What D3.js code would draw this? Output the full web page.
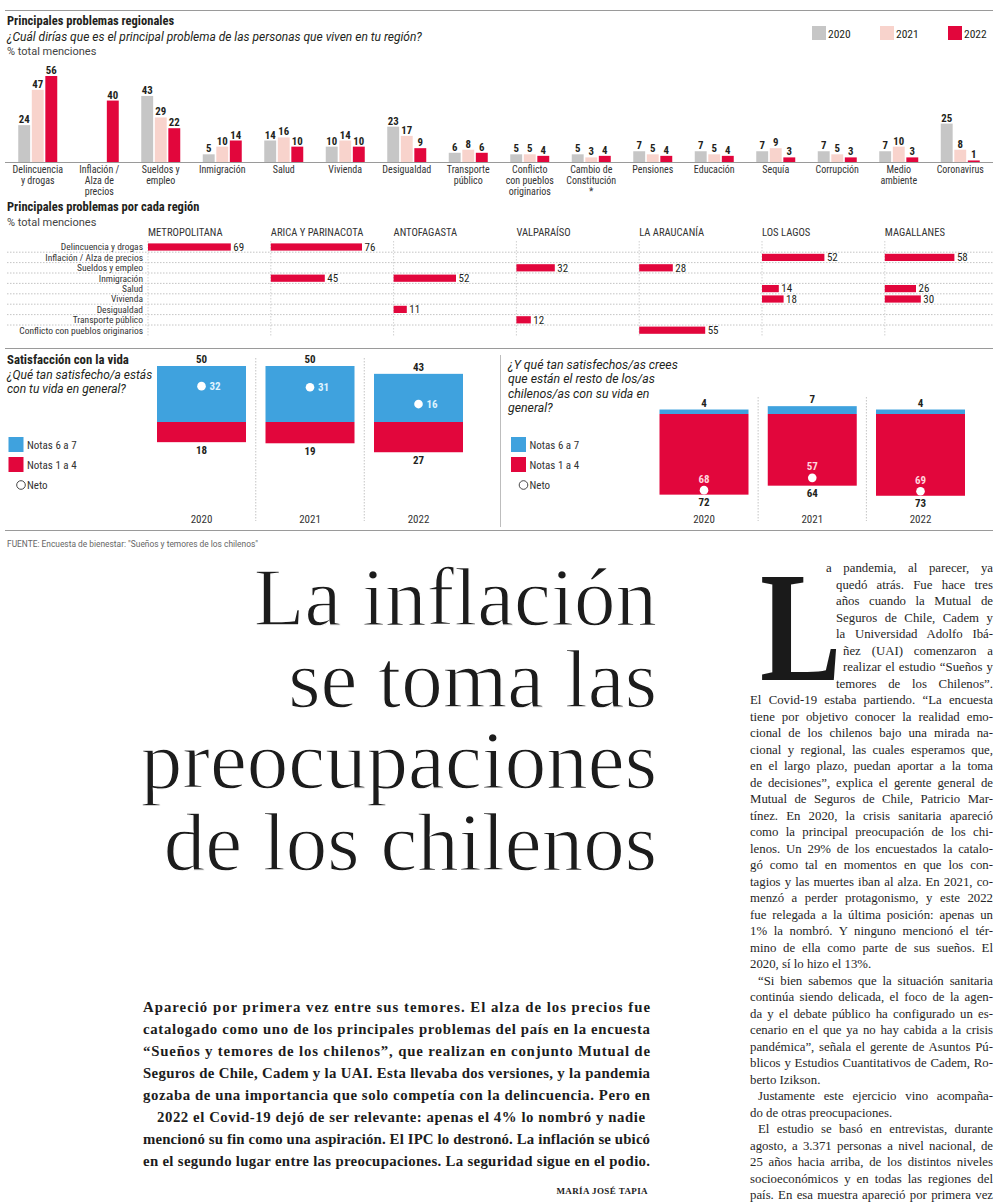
<!DOCTYPE html>
<html>
<head>
<meta charset="utf-8">
<script src="https://cdn.jsdelivr.net/npm/d3@7"></script>
<style>
  body { margin: 0; background: #fff; }
  svg { display: block; }
</style>
</head>
<body>
<svg id="page" width="1000" height="1202"></svg>
<script>
// ---- datos: problemas regionales ----
const categorias = ['Delincuencia\ny drogas', 'Inflación /\nAlza de\nprecios', 'Sueldos y\nempleo', 'Inmigración',
  'Salud', 'Vivienda', 'Desigualdad', 'Transporte\npúblico', 'Conflicto\ncon pueblos\noriginarios',
  'Cambio de\nConstitución\n*', 'Pensiones', 'Educación', 'Sequía', 'Corrupción', 'Medio\nambiente', 'Coronavirus'];
const anios = ['2020', '2021', '2022'];
const valores2020 = [24, null, 43, 5, 14, 10, 23, 6, 5, 5, 7, 7, 7, 7, 7, 25];
const valores2021 = [47, null, 29, 10, 16, 14, 17, 8, 5, 3, 5, 5, 9, 5, 10, 8];
const valores2022 = [56, 40, 22, 14, 10, 10, 9, 6, 4, 4, 4, 4, 3, 3, 3, 1];

// ---- datos: problemas por región ----
const regiones = ['METROPOLITANA', 'ARICA Y PARINACOTA', 'ANTOFAGASTA', 'VALPARAÍSO', 'LA ARAUCANÍA', 'LOS LAGOS', 'MAGALLANES'];
const problemasRegion = ['Delincuencia y drogas', 'Inflación / Alza de precios', 'Sueldos y empleo', 'Inmigración',
  'Salud', 'Vivienda', 'Desigualdad', 'Transporte público', 'Conflicto con pueblos originarios'];
const barrasRegion = [
  ['METROPOLITANA', 'Delincuencia y drogas', 69],
  ['ARICA Y PARINACOTA', 'Delincuencia y drogas', 76],
  ['ARICA Y PARINACOTA', 'Inmigración', 45],
  ['ANTOFAGASTA', 'Inmigración', 52],
  ['ANTOFAGASTA', 'Desigualdad', 11],
  ['VALPARAÍSO', 'Sueldos y empleo', 32],
  ['VALPARAÍSO', 'Transporte público', 12],
  ['LA ARAUCANÍA', 'Sueldos y empleo', 28],
  ['LA ARAUCANÍA', 'Conflicto con pueblos originarios', 55],
  ['LOS LAGOS', 'Inflación / Alza de precios', 52],
  ['LOS LAGOS', 'Salud', 14],
  ['LOS LAGOS', 'Vivienda', 18],
  ['MAGALLANES', 'Inflación / Alza de precios', 58],
  ['MAGALLANES', 'Salud', 26],
  ['MAGALLANES', 'Vivienda', 30]
];

// ---- datos: satisfacción con la vida ----
const propiaAlta = [50, 50, 43];
const propiaBaja = [18, 19, 27];
const propiaNeto = [32, 31, 16];
const otrosAlta = [4, 7, 4];
const otrosBaja = [72, 64, 73];
const otrosNeto = [-68, -57, -69];

// ---- textos ----
const titular = ['La inflación', 'se toma las', 'preocupaciones', 'de los chilenos'];
const bajada = [
  'Apareció por primera vez entre sus temores. El alza de los precios fue',
  'catalogado como uno de los principales problemas del país en la encuesta',
  '“Sueños y temores de los chilenos”, que realizan en conjunto Mutual de',
  'Seguros de Chile, Cadem y la UAI. Esta llevaba dos versiones, y la pandemia',
  'gozaba de una importancia que solo competía con la delincuencia. Pero en',
  '2022 el Covid-19 dejó de ser relevante: apenas el 4% lo nombró y nadie',
  'mencionó su fin como una aspiración. El IPC lo destronó. La inflación se ubicó',
  'en el segundo lugar entre las preocupaciones. La seguridad sigue en el podio.'
];
const articulo = [
  'a pandemia, al parecer, ya',
  'quedó atrás. Fue hace tres',
  'años cuando la Mutual de',
  'Seguros de Chile, Cadem y',
  'la Universidad Adolfo Ibá-',
  'ñez (UAI) comenzaron a',
  'realizar el estudio “Sueños y',
  'temores de los Chilenos”.',
  'El Covid-19 estaba partiendo. “La encuesta',
  'tiene por objetivo conocer la realidad emo-',
  'cional de los chilenos bajo una mirada na-',
  'cional y regional, las cuales esperamos que,',
  'en el largo plazo, puedan aportar a la toma',
  'de decisiones”, explica el gerente general de',
  'Mutual de Seguros de Chile, Patricio Mar-',
  'tínez. En 2020, la crisis sanitaria apareció',
  'como la principal preocupación de los chi-',
  'lenos. Un 29% de los encuestados la catalo-',
  'gó como tal en momentos en que los con-',
  'tagios y las muertes iban al alza. En 2021, co-',
  'menzó a perder protagonismo, y este 2022',
  'fue relegada a la última posición: apenas un',
  '1% la nombró. Y ninguno mencionó el tér-',
  'mino de ella como parte de sus sueños. El',
  '2020, sí lo hizo el 13%.',
  '“Si bien sabemos que la situación sanitaria',
  'continúa siendo delicada, el foco de la agen-',
  'da y el debate público ha configurado un es-',
  'cenario en el que ya no hay cabida a la crisis',
  'pandémica”, señala el gerente de Asuntos Pú-',
  'blicos y Estudios Cuantitativos de Cadem, Ro-',
  'berto Izikson.',
  'Justamente este ejercicio vino acompaña-',
  'do de otras preocupaciones.',
  'El estudio se basó en entrevistas, durante',
  'agosto, a 3.371 personas a nivel nacional, de',
  '25 años hacia arriba, de los distintos niveles',
  'socioeconómicos y en todas las regiones del',
  'país. En esa muestra apareció por primera vez'
];
const sangrias = [25, 32, 34];
const finesParrafo = [24, 31, 33];

const SANS = '"Liberation Sans Narrow", "Roboto Condensed", Roboto, sans-serif';
const WIDE = 'Roboto, "Noto Sans", sans-serif';
const SERIF = '"Liberation Serif", "DejaVu Serif", serif';
const RED = '#e2063c', GRAY = '#c6c6c6', PINK = '#f8d3cc', BLUE = '#3fa2de', INK = '#231f20';

const svg = d3.select('#page');

function label(x, y, txt, size, opts = {}) {
  return svg.append('text')
    .attr('x', x).attr('y', y)
    .attr('font-family', opts.family || SANS)
    .attr('font-size', size)
    .attr('font-weight', opts.weight || 'normal')
    .attr('font-style', opts.style || 'normal')
    .attr('text-anchor', opts.anchor || 'start')
    .attr('fill', opts.fill || INK)
    .text(txt);
}

function rule(y, x1 = 5, x2 = 993) {
  svg.append('line').attr('x1', x1).attr('x2', x2).attr('y1', y).attr('y2', y)
    .attr('stroke', '#9a9a9a').attr('stroke-width', 1);
}

// justifica una línea ajustando el espacio entre palabras
function justify(node, width) {
  const spaces = (node.textContent.match(/ /g) || []).length;
  if (!spaces) return;
  const len = node.getComputedTextLength();
  d3.select(node).style('word-spacing', ((width - len) / spaces) + 'px');
}

rule(10.5);
rule(348.5);
rule(530.5);

// ================= Principales problemas regionales =================
label(7, 25, 'Principales problemas regionales', 12.5, { weight: 'bold' });
label(7, 41, '¿Cuál dirías que es el principal problema de las personas que viven en tu región?', 12, { style: 'italic', family: WIDE });
label(7, 55, '% total menciones', 11, { fill: '#444', family: WIDE });

const series = [
  { year: '2020', values: valores2020, color: GRAY },
  { year: '2021', values: valores2021, color: PINK },
  { year: '2022', values: valores2022, color: RED }
];

// leyenda
const legX = d3.scalePoint().domain(anios).range([812, 948]);
series.forEach(s => {
  svg.append('rect').attr('x', legX(s.year)).attr('y', 26).attr('width', 14).attr('height', 14).attr('fill', s.color);
  label(legX(s.year) + 16, 37.5, s.year, 11.5);
});

const x0 = d3.scaleBand().domain(categorias).range([7, 991]);
const x1 = d3.scaleBand().domain(anios).range([-19.5, 19.5]).paddingInner(0.12);
const y = d3.scaleLinear().domain([0, 56]).range([162, 76]);
const center = c => x0(c) + x0.bandwidth() / 2;

const gBars = svg.append('g');
series.forEach(s => {
  const pts = categorias.map((c, i) => ({ c, v: s.values[i] })).filter(d => d.v != null);
  gBars.selectAll(null).data(pts).enter().append('rect')
    .attr('x', d => center(d.c) + x1(s.year))
    .attr('y', d => y(d.v))
    .attr('width', x1.bandwidth())
    .attr('height', d => y(0) - y(d.v))
    .attr('fill', s.color);
  gBars.selectAll(null).data(pts).enter().append('text')
    .attr('x', d => center(d.c) + x1(s.year) + x1.bandwidth() / 2)
    .attr('y', d => y(d.v) - 2)
    .attr('text-anchor', 'middle')
    .attr('font-family', SANS).attr('font-size', 10.8).attr('font-weight', 'bold')
    .attr('fill', INK)
    .text(d => d.v);
});

svg.append('line').attr('x1', 5).attr('x2', 993).attr('y1', y(0) + 0.5).attr('y2', y(0) + 0.5)
  .attr('stroke', '#9a9a9a');

const catLabels = svg.append('g').selectAll('text').data(categorias).enter().append('text')
  .attr('text-anchor', 'middle')
  .attr('font-family', SANS).attr('font-size', 10).attr('fill', '#333');
catLabels.selectAll('tspan').data(d => d.split('\n')).enter().append('tspan')
  .attr('x', function () { return center(d3.select(this.parentNode).datum()); })
  .attr('y', (d, i) => 173 + i * 11)
  .text(d => d);

// ================= Principales problemas por cada región =================
label(7, 211, 'Principales problemas por cada región', 12.5, { weight: 'bold' });
label(7, 226, '% total menciones', 11, { fill: '#444', family: WIDE });

const xr = d3.scaleBand().domain(regiones).range([148, 148 + 7 * 122.8]);
const yr = d3.scaleBand().domain(problemasRegion).range([241.8, 335.4]);
const wr = d3.scaleLinear().domain([0, 100]).range([0, 120]);

problemasRegion.slice(1).forEach(p => {
  svg.append('line').attr('x1', 7).attr('x2', 993).attr('y1', yr(p)).attr('y2', yr(p))
    .attr('stroke', '#b5b5b5').attr('stroke-width', 0.8).attr('stroke-dasharray', '1.5,1.5');
});
regiones.forEach(r => {
  svg.append('line').attr('x1', xr(r)).attr('x2', xr(r)).attr('y1', 241).attr('y2', 336)
    .attr('stroke', '#c5c5c5').attr('stroke-width', 0.8).attr('stroke-dasharray', '1.5,1.5');
  label(xr(r), 235.5, r, 10.6, { fill: '#333' });
});
problemasRegion.forEach(p => {
  label(143, yr(p) + yr.bandwidth() / 2 + 3.3, p, 9.5, { anchor: 'end', fill: '#333' });
});

const gReg = svg.append('g');
gReg.selectAll('rect').data(barrasRegion).enter().append('rect')
  .attr('x', d => xr(d[0]))
  .attr('y', d => yr(d[1]) + yr.bandwidth() / 2 - 3.6)
  .attr('width', d => wr(d[2]))
  .attr('height', 7.2)
  .attr('fill', RED);
gReg.selectAll('text').data(barrasRegion).enter().append('text')
  .attr('x', d => xr(d[0]) + wr(d[2]) + 2.5)
  .attr('y', d => yr(d[1]) + yr.bandwidth() / 2 + 3.8)
  .attr('font-family', SANS).attr('font-size', 11).attr('fill', INK)
  .text(d => d[2]);

// ================= Satisfacción con la vida =================
label(7, 364, 'Satisfacción con la vida', 12.8, { weight: 'bold' });
label(7, 378.5, '¿Qué tan satisfecho/a estás', 12, { style: 'italic', family: WIDE });
label(7, 393, 'con tu vida en general?', 12, { style: 'italic', family: WIDE });

['¿Y qué tan satisfechos/as crees', 'que están el resto de los/as', 'chilenos/as con su vida en', 'general?']
  .forEach((t, i) => label(508, 369 + i * 14.3, t, 12.3, { style: 'italic', family: WIDE }));

svg.append('line').attr('x1', 500.5).attr('x2', 500.5).attr('y1', 355).attr('y2', 527)
  .attr('stroke', '#bdbdbd');

const ys = d3.scaleLinear().domain([0, 50]).range([0, 56]);
const paneles = [
  { alta: propiaAlta, baja: propiaBaja, neto: propiaNeto, cx: [201.5, 418.5], base: 422, sepTop: 358, legX: 8.5, netoPos: 'right' },
  { alta: otrosAlta, baja: otrosBaja, neto: otrosNeto, cx: [704, 920.5], base: 414, sepTop: 397, legX: 511, netoPos: 'above' }
];
const BW = 89;

paneles.forEach(p => {
  const xp = d3.scalePoint().domain(anios).range(p.cx);
  const step = xp.step();
  anios.slice(1).forEach(a => {
    svg.append('line').attr('x1', xp(a) - step / 2).attr('x2', xp(a) - step / 2)
      .attr('y1', p.sepTop).attr('y2', 521)
      .attr('stroke', '#b5b5b5').attr('stroke-width', 0.8).attr('stroke-dasharray', '1.5,1.5');
  });
  anios.forEach((a, i) => {
    const cx = xp(a);
    const top = p.base - ys(p.alta[i]);
    const bottom = p.base + ys(p.baja[i]);
    svg.append('rect').attr('x', cx - BW / 2).attr('y', top).attr('width', BW).attr('height', ys(p.alta[i])).attr('fill', BLUE);
    svg.append('rect').attr('x', cx - BW / 2).attr('y', p.base).attr('width', BW).attr('height', ys(p.baja[i])).attr('fill', RED);
    label(cx, top - 3, p.alta[i], 11, { anchor: 'middle', weight: 'bold' });
    label(cx, bottom + 11.5, p.baja[i], 11, { anchor: 'middle', weight: 'bold' });
    const ny = p.base - ys(p.neto[i]);
    svg.append('circle').attr('cx', cx).attr('cy', ny).attr('r', 4.3).attr('fill', '#fff');
    if (p.netoPos === 'right') {
      label(cx + 8, ny + 3.8, p.neto[i], 11, { weight: 'bold', fill: '#dff3ff' });
    } else {
      label(cx, ny - 7.5, Math.abs(p.neto[i]), 11, { anchor: 'middle', weight: 'bold', fill: '#ffd5dc' });
    }
    label(cx, 523, a, 11, { anchor: 'middle', fill: '#333' });
  });
  // leyenda
  svg.append('rect').attr('x', p.legX).attr('y', 437).attr('width', 15).attr('height', 15).attr('fill', BLUE);
  svg.append('rect').attr('x', p.legX).attr('y', 457).attr('width', 15).attr('height', 15).attr('fill', RED);
  label(p.legX + 18.5, 448.5, 'Notas 6 a 7', 11, { fill: '#333' });
  label(p.legX + 18.5, 468.5, 'Notas 1 a 4', 11, { fill: '#333' });
  svg.append('circle').attr('cx', p.legX + 12.5).attr('cy', 485).attr('r', 4.3)
    .attr('fill', '#fff').attr('stroke', '#333').attr('stroke-width', 0.9);
  label(p.legX + 18.5, 489, 'Neto', 11, { fill: '#333' });
});

label(7, 546.5, 'FUENTE: Encuesta de bienestar: "Sueños y temores de los chilenos"', 8.4, { fill: '#666', family: WIDE });

// ================= Titular =================
titular.forEach((t, i) => {
  label(657, 625 + i * 81.7, t, 83, { family: SERIF, anchor: 'end', fill: '#1c1c1c' })
    .attr('stroke', '#fff').attr('stroke-width', 1.3);
});

// ================= Bajada =================
bajada.forEach((t, i) => {
  const x1b = i === 5 ? 157 : 143;
  const x2b = i === 5 ? 645 : 650;
  label(x1b, 1012 + i * 22, t, 14.8, { family: SERIF, weight: 'bold', fill: '#1c1c1c' })
    .attr('textLength', x2b - x1b).attr('lengthAdjust', 'spacing');
});
label(648, 1194, 'MARÍA JOSÉ TAPIA', 9, { family: SERIF, weight: 'bold', anchor: 'end', fill: '#222' })
  .attr('letter-spacing', 0.4);

// ================= Cuerpo del artículo =================
svg.append('text')
  .attr('transform', 'translate(760,680) scale(0.78,1)')
  .attr('font-family', SERIF).attr('font-weight', 'bold').attr('font-size', 156)
  .attr('fill', '#1a1a1a')
  .text('L');

const colRight = 993;
articulo.forEach((t, i) => {
  let xa = 750;
  if (i === 0) xa = 826;
  else if (i === 5 || i === 6) xa = 843;
  else if (i < 8) xa = 836;
  else if (sangrias.includes(i)) xa = 758;
  const node = label(xa, 572 + i * 16.5, t, 12.8, { family: SERIF, fill: '#262626' }).node();
  if (!finesParrafo.includes(i)) justify(node, colRight - xa);
});
</script>
</body>
</html>
